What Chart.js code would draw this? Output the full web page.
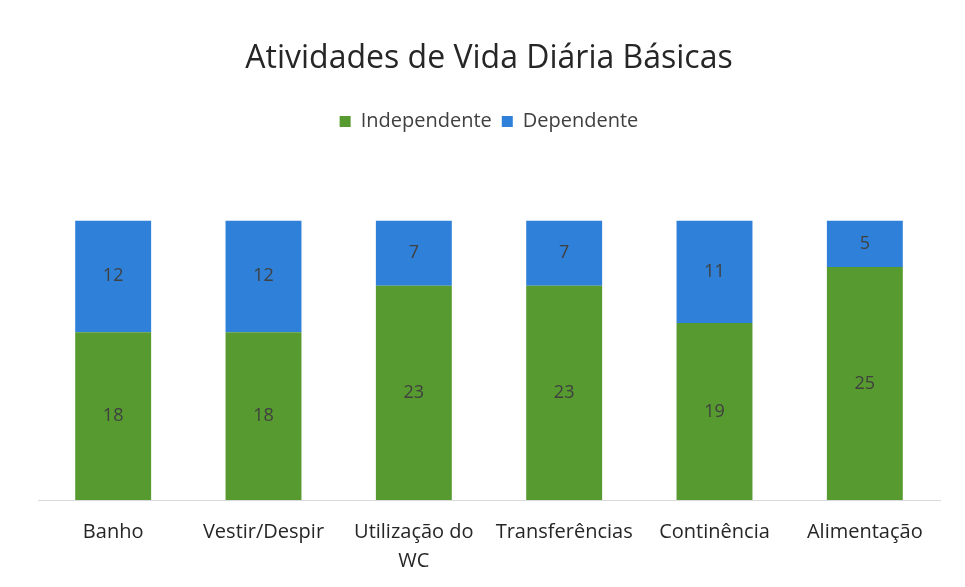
<!DOCTYPE html>
<html>
<head>
<meta charset="utf-8">
<script src="https://cdn.jsdelivr.net/npm/chart.js@4"></script>
<style>
  html, body { margin: 0; padding: 0; background: #fff; }
  #wrap { width: 965px; height: 587px; }
</style>
</head>
<body>
<div id="wrap"><canvas id="chart"></canvas></div>
<script>
const categories = ["Banho", "Vestir/Despir", ["Utilização do", "WC"], "Transferências", "Continência", "Alimentação"];
const independente = [18, 18, 23, 23, 19, 25];
const dependente = [12, 12, 7, 7, 11, 5];

// draw the value in the middle of each segment
const valueLabels = {
  id: "valueLabels",
  afterDatasetsDraw(chart) {
    const ctx = chart.ctx;
    ctx.save();
    ctx.font = "18px 'Open Sans', sans-serif";
    ctx.fillStyle = "#404040";
    ctx.textAlign = "center";
    ctx.textBaseline = "middle";
    chart.data.datasets.forEach((ds, i) => {
      chart.getDatasetMeta(i).data.forEach((bar, j) => {
        const mid = (bar.y + bar.base) / 2;
        ctx.fillText(ds.data[j], bar.x, mid);
      });
    });
    ctx.restore();
  }
};

// extra room under the legend
const legendGap = {
  id: "legendGap",
  beforeInit(chart) {
    const fit = chart.legend.fit;
    chart.legend.fit = function () {
      fit.bind(chart.legend)();
      this.height += 79;
    };
  }
};

new Chart("chart", {
  type: "bar",
  data: {
    labels: categories,
    datasets: [
      { label: "Independente", data: independente, backgroundColor: "#569a30" },
      { label: "Dependente", data: dependente, backgroundColor: "#2f80d8" }
    ]
  },
  options: {
    responsive: true,
    maintainAspectRatio: false,
    animation: false,
    layout: { padding: { left: 38, right: 25, top: 40, bottom: -7 } },
    datasets: { bar: { categoryPercentage: 1, barPercentage: 0.505 } },
    plugins: {
      title: {
        display: true,
        text: "Atividades de Vida Diária Básicas",
        color: "#262626",
        font: { family: "'Open Sans', sans-serif", size: 32, weight: "normal" },
        padding: { top: 0, bottom: 23 }
      },
      legend: {
        labels: {
          color: "#404040",
          font: { family: "'Open Sans', sans-serif", size: 20 },
          boxWidth: 11, boxHeight: 11,
          padding: 10
        }
      },
      tooltip: { enabled: false }
    },
    scales: {
      x: {
        stacked: true,
        grid: { display: false, drawTicks: false },
        border: { color: "#d9d9d9", width: 1 },
        ticks: {
          color: "#262626",
          font: { family: "'Open Sans', sans-serif", size: 20, lineHeight: 1.45 },
          padding: 18,
          maxRotation: 0
        }
      },
      y: {
        stacked: true,
        display: false,
        min: 0, max: 30
      }
    }
  },
  plugins: [valueLabels, legendGap]
});
</script>
</body>
</html>
